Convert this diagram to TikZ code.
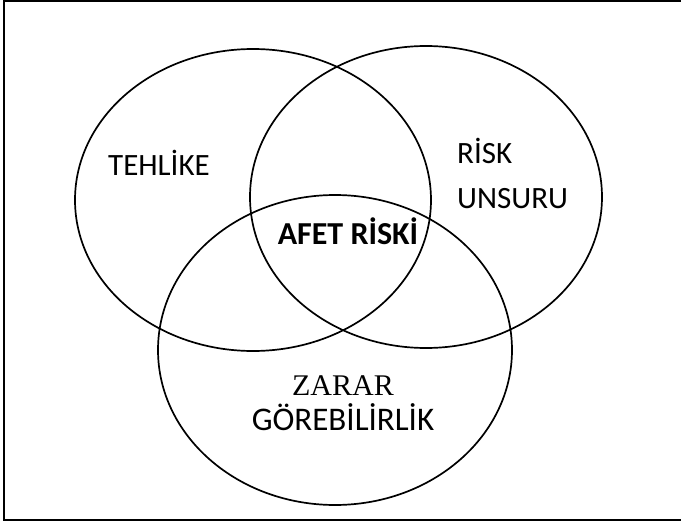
\documentclass[tikz,border=0pt]{standalone}
\usepackage{fontspec}
\setmainfont{Carlito}
\newfontfamily\timesfont{Liberation Serif}

\begin{document}
\begin{tikzpicture}[x=1pt, y=-1pt,
		kreis/.style={draw, line width=1.7pt},  %Ellipsen
		etikett/.style={font=\fontsize{31}{45}\selectfont, inner sep=0pt}]
	%Bildbereich und Rahmen
	\useasboundingbox (0,0) rectangle (681,525);
	\draw[line width=1.6pt] (681,1) -- (4,1) -- (4,520) -- (681,520);
	% Ellipsen zeichnen
	\draw[kreis] (253,200) ellipse [x radius=178, y radius=151];
	\draw[kreis] (426,197) ellipse [x radius=176, y radius=151];
	\draw[kreis] (335,350) ellipse [x radius=177, y radius=155];
	% Beschriftung
	\node[etikett] (tehlike) at (159,163) {TEHLİKE};
	\node[etikett, align=left, anchor=north west] (unsur) at (457,138) {RİSK\\UNSURU};
	\node[etikett, font=\fontsize{32}{38}\selectfont\bfseries] (afet) at (348,231) {AFET RİSKİ};
	\node[etikett, align=center, font=\fontsize{33}{35}\selectfont] (zarar) at (343,403) {{\fontsize{30}{35}\timesfont ZARAR}\\GÖREBİLİRLİK};
\end{tikzpicture}
\end{document}
